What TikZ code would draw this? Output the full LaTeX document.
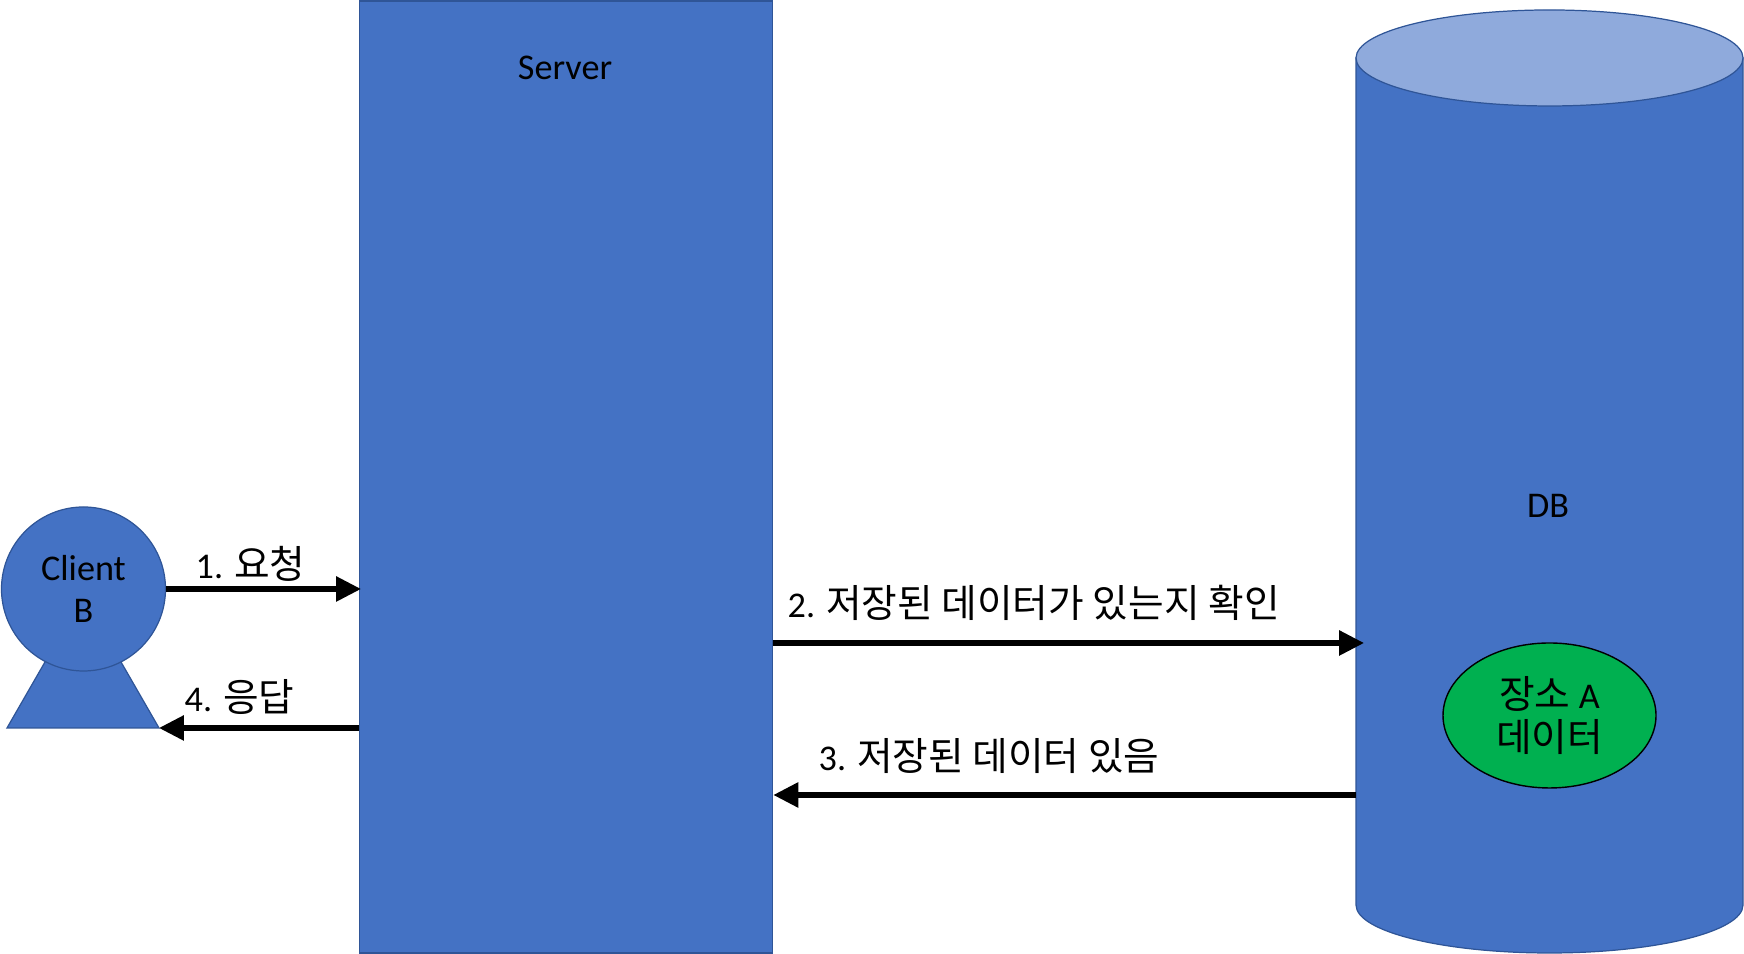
\documentclass[tikz,border=0pt]{standalone}
\usepackage{fontspec}
\setmainfont{Carlito}
\newfontfamily\krfont[Scale=1.07]{Noto Sans CJK KR}
\definecolor{boxblue}{RGB}{68,114,196}
\definecolor{edgeblue}{RGB}{47,85,151}
\definecolor{capblue}{RGB}{143,170,220}
\definecolor{datagreen}{RGB}{0,176,80}
\usetikzlibrary{arrows.meta,positioning,shapes.geometric,calc}
\tikzset{
  blueshape/.style={draw=edgeblue, fill=boxblue, line width=0.35pt, inner sep=0pt},
  msg/.style={line width=1.45pt, -{Triangle[length=7.1pt,width=6.9pt]}},
  txt/.style={font=\fontsize{10.3}{12}\selectfont, inner sep=0pt, align=center},
  msgtxt/.style={font=\fontsize{10.3}{12}\selectfont, inner sep=0pt, anchor=west}
}
\begin{document}
\begin{tikzpicture}
\useasboundingbox (0,0) rectangle (17.44,9.54);
\node[blueshape, minimum width=4.135cm, minimum height=9.52cm] (server) at (5.66,4.77) {};
\node[txt] (serverlabel) at (5.65,8.86) {Server};
% database
\draw[blueshape] (13.56,8.96) -- (13.56,0.49) arc[start angle=180, end angle=360, x radius=1.935, y radius=0.48]
  -- (17.43,8.96) -- cycle;
\node[ellipse, blueshape, fill=capblue, minimum width=3.87cm, minimum height=0.96cm] (dbtop) at (15.495,8.96) {};
\node[txt] (dblabel) at (15.48,4.48) {DB};
\node[ellipse, draw=black, fill=datagreen, line width=0.4pt, minimum width=2.13cm, minimum height=1.45cm, inner sep=0pt,
      font=\fontsize{10.3}{12.5}\selectfont, align=center] (data) at (15.495,2.385) {{\krfont 장소} A\\{\krfont 데이터}};
% client figure
\coordinate (bodyl) at (0.07,2.26);
\coordinate (bodyr) at (1.59,2.26);
\draw[blueshape] (bodyl) -- (0.83,3.58) -- (bodyr) -- cycle;
\node[circle, blueshape, minimum size=1.64cm, txt] (client) at (0.835,3.65) {Client\\B};
% messages
\coordinate (reqtip) at (3.61,3.65);
\coordinate (checktip) at (13.64,3.11);
\coordinate (foundend) at (13.56,1.59);
\draw[msg] (client.east) -- (reqtip);
\draw[msg] (server.east |- checktip) -- (checktip);
\draw[msg] (foundend) -- (server.east |- foundend);
\draw[msg] (server.west |- bodyr) -- (bodyr);
\node[msgtxt] (reqlabel) at (1.95,3.9) {1. {\krfont 요청}};
\node[msgtxt] (checklabel) at (7.87,3.51) {2. {\krfont 저장된 데이터가 있는지 확인}};
\node[msgtxt] (foundlabel) at (8.18,1.98) {3. {\krfont 저장된 데이터 있음}};
\node[msgtxt] (resplabel) at (1.84,2.57) {4. {\krfont 응답}};
\end{tikzpicture}
\end{document}
